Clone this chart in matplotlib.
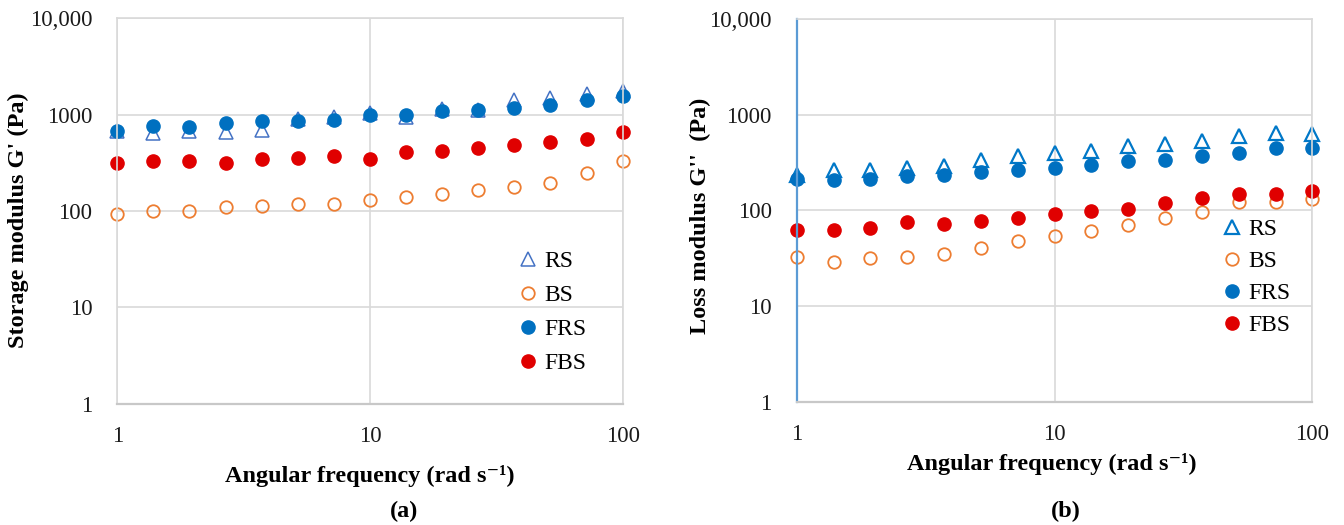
import matplotlib
matplotlib.use('Agg')
import matplotlib.pyplot as plt

# ── data ────────────────────────────────────────────────────
freq = [1, 1.39, 1.93, 2.68, 3.73, 5.18, 7.2, 10, 13.9, 19.3, 26.8, 37.3, 51.8, 72, 100]

# (a) storage modulus G' (Pa)
g1_rs  = [676, 650, 680, 655, 690, 900, 950, 1030, 950, 1130, 1120, 1407, 1500, 1623, 1758]
g1_bs  = [94, 101, 101, 109, 114, 119, 119, 129, 140, 151, 165, 176, 197, 249, 329]
g1_frs = [681, 767, 749, 819, 865, 859, 886, 983, 1000, 1093, 1109, 1172, 1269, 1429, 1547]
g1_fbs = [317, 330, 330, 317, 343, 355, 375, 346, 407, 423, 445, 482, 521, 563, 657]

# (b) loss modulus G'' (Pa)
g2_rs  = [233, 263, 263, 281, 290, 338, 367, 397, 414, 467, 494, 526, 594, 643, 633]
g2_bs  = [32.3, 29.2, 31.7, 33, 35.5, 41, 48, 54, 60.5, 71, 83, 97.6, 124, 124, 131]
g2_frs = [215, 207, 215, 228, 237, 255, 266, 277, 301, 326, 338, 367, 397, 448, 448]
g2_fbs = [62.6, 62, 65, 75, 72, 77, 83, 92, 98, 104, 119, 134, 149, 149, 158]

series_names = ['RS', 'BS', 'FRS', 'FBS']
y_ticks = [1, 10, 100, 1000, 10000]
y_tick_labels = ['1', '10', '100', '1000', '10,000']
x_ticks = [1, 10, 100]
x_tick_labels = ['1', '10', '100']

plt.rcParams['font.family'] = ['Liberation Serif', 'DejaVu Serif']

GRID = '#D9D9D9'
ORANGE = '#ED7D31'
BLUE = '#0070C0'
RED = '#E00000'

fig = plt.figure(figsize=(13.44, 5.25), dpi=100)
ax1 = fig.add_axes([0.0873, 0.2305, 0.3760, 0.7352])
ax2 = fig.add_axes([0.5928, 0.2343, 0.3836, 0.7295])


def style_axes(ax):
    ax.set_xscale('log')
    ax.set_yscale('log')
    ax.set_xlim(1, 100)
    ax.set_ylim(1, 10000)
    ax.set_xticks(x_ticks, x_tick_labels)
    ax.set_yticks(y_ticks, y_tick_labels)
    ax.minorticks_off()
    ax.grid(True, color=GRID, linewidth=1.2)
    ax.set_axisbelow(True)
    ax.tick_params(length=0, labelsize=16.5, colors='#1a1a1a')
    ax.tick_params(axis='x', pad=16)
    ax.tick_params(axis='y', pad=18)
    for side in ['top', 'right', 'left']:
        ax.spines[side].set_color(GRID)
        ax.spines[side].set_linewidth(1.2)
    ax.spines['bottom'].set_color('#C8C8C8')
    ax.spines['bottom'].set_linewidth(1.6)


def draw(ax, rs, bs, frs, fbs, rs_color, tri_lw):
    style_axes(ax)
    ax.plot(freq, rs, linestyle='none', marker='^', markersize=9.5,
            markerfacecolor='none', markeredgecolor=rs_color, markeredgewidth=tri_lw,
            label=series_names[0], clip_on=False)
    ax.plot(freq, bs, linestyle='none', marker='o', markersize=9,
            markerfacecolor='none', markeredgecolor=ORANGE, markeredgewidth=1.3,
            label=series_names[1], clip_on=False)
    ax.plot(freq, frs, linestyle='none', marker='o', markersize=9.5,
            color=BLUE, label=series_names[2], clip_on=False)
    ax.plot(freq, fbs, linestyle='none', marker='o', markersize=9.5,
            color=RED, label=series_names[3], clip_on=False)


draw(ax1, g1_rs, g1_bs, g1_frs, g1_fbs, '#4472C4', 1.1)
draw(ax2, g2_rs, g2_bs, g2_frs, g2_fbs, '#0078C8', 1.6)
ax2.spines['left'].set_color('#5B9BD5')
ax2.spines['left'].set_linewidth(1.6)

ax1.legend(loc='upper left', bbox_to_anchor=(0.793, 0.398), frameon=False,
           fontsize=17, handlelength=0.8, handletextpad=0.3, borderpad=0,
           borderaxespad=0, labelspacing=0.53)
ax2.legend(loc='upper left', bbox_to_anchor=(0.826, 0.478), frameon=False,
           fontsize=17, handlelength=0.8, handletextpad=0.3, borderpad=0,
           borderaxespad=0, labelspacing=0.44)

xlab = 'Angular frequency (rad s\u207b\u00b9)'
fig.text(370 / 1344, 1 - 476 / 525, xlab, ha='center', va='center',
         fontsize=17.5, fontweight='bold')
fig.text(1052 / 1344, 1 - 464 / 525, xlab, ha='center', va='center',
         fontsize=17.5, fontweight='bold')
fig.text(404 / 1344, 1 - 511 / 525, '(a)', ha='center', va='center',
         fontsize=17.5, fontweight='bold')
fig.text(1066 / 1344, 1 - 511 / 525, '(b)', ha='center', va='center',
         fontsize=17.5, fontweight='bold')
fig.text(18 / 1344, 1 - 220 / 525, "Storage modulus G' (Pa)", rotation=90,
         ha='center', va='center', fontsize=17.5, fontweight='bold')
fig.text(700 / 1344, 1 - 216 / 525, "Loss modulus G''  (Pa)", rotation=90,
         ha='center', va='center', fontsize=17.5, fontweight='bold')

fig.savefig('out.png', dpi=100, facecolor='white')
